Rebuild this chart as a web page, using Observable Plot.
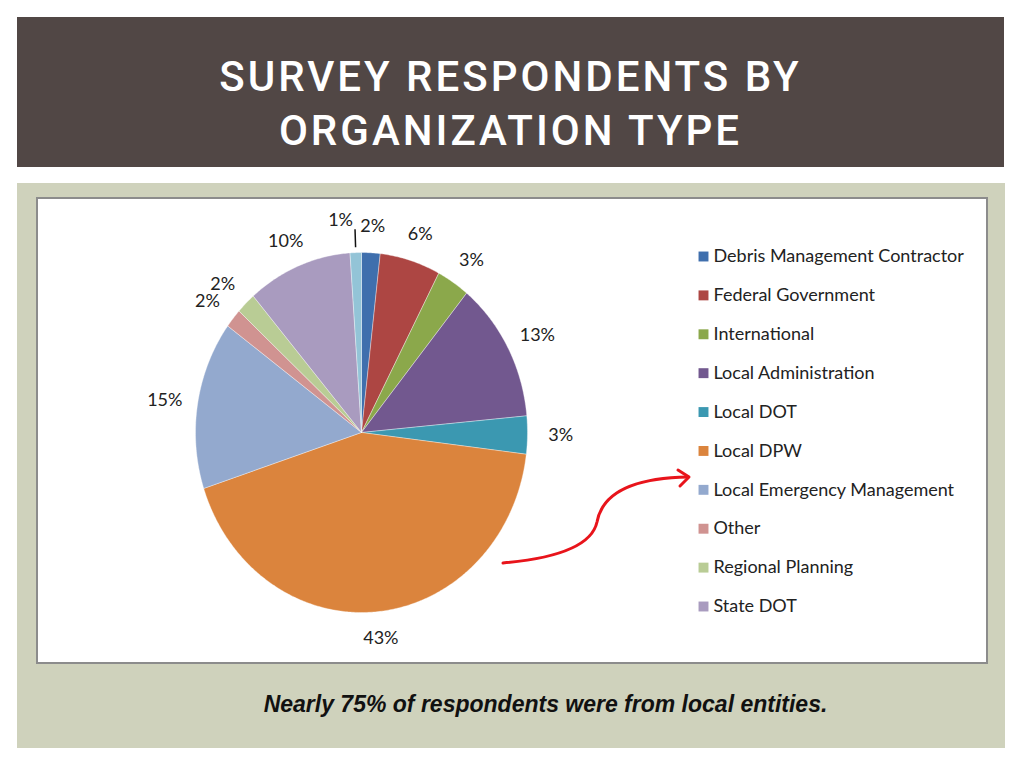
<!DOCTYPE html>
<html>
<head>
<meta charset="utf-8">
<script src="https://cdn.jsdelivr.net/npm/d3@7"></script>
<script src="https://cdn.jsdelivr.net/npm/@observablehq/plot@0.6"></script>
<style>
  html, body { margin: 0; padding: 0; background: #ffffff; }
  #page { position: relative; width: 1024px; height: 768px; overflow: hidden; }
  .abs { position: absolute; }
  #titlebar { left: 17px; top: 17px; width: 987px; height: 150px; background: #514745; }
  #title { left: 17px; top: 17px; width: 987px; text-align: center; color: #ffffff;
    font-family: Roboto, "Liberation Sans", sans-serif; font-weight: 500; font-size: 42px;
    letter-spacing: 3px; line-height: 54px; padding-top: 33px; white-space: nowrap; }
  #panel { left: 17px; top: 183px; width: 988px; height: 565px; background: #cfd2bc; }
  #box { left: 36px; top: 197px; width: 952px; height: 467px; background: #ffffff;
    border: 2px solid #8c8c8c; box-sizing: border-box; }
  #pie { left: 36px; top: 197px; }
  #legend { left: 690px; top: 236px; }
  #caption { left: 17px; top: 691px; width: 1057px; text-align: center; line-height: 26px;
    font-family: "Liberation Sans", Arial, sans-serif; font-style: italic; font-weight: bold;
    font-size: 23px; color: #111; white-space: nowrap; }
  #arrow { left: 0; top: 0; pointer-events: none; }
</style>
</head>
<body>
<div id="page">
  <div id="titlebar" class="abs"></div>
  <div id="title" class="abs">SURVEY RESPONDENTS BY<br>ORGANIZATION TYPE</div>
  <div id="panel" class="abs"></div>
  <div id="box" class="abs"></div>
  <div id="pie" class="abs"></div>
  <div id="legend" class="abs"></div>
  <div id="caption" class="abs">Nearly 75% of respondents were from local entities.</div>
  <svg id="arrow" class="abs" width="1024" height="768">
    <path d="M503,563 C560,558 592,545 597,522 C602,495 630,478 688,477" fill="none" stroke="#e8141b" stroke-width="3" stroke-linecap="round"/>
    <path d="M678,470 L689,477 L680,486" fill="none" stroke="#e8141b" stroke-width="3" stroke-linecap="round" stroke-linejoin="round"/>
  </svg>
</div>
<script>
// ---- data ----
const categories = ["Debris Management Contractor", "Federal Government", "International",
  "Local Administration", "Local DOT", "Local DPW", "Local Emergency Management",
  "Other", "Regional Planning", "State DOT", "Unlabeled"];
const values = [1.8, 5.9, 3.2, 12.6, 3.4, 43.0, 15.1, 1.7, 1.9, 10.2, 1.1];
const percentLabels = ["2%", "6%", "3%", "13%", "3%", "43%", "15%", "2%", "2%", "10%", "1%"];
const legendNames = ["Debris Management Contractor", "Federal Government", "International",
  "Local Administration", "Local DOT", "Local DPW", "Local Emergency Management",
  "Other", "Regional Planning", "State DOT"];
const colors = ["#3f6fad", "#ad4643", "#8ba84b", "#72588f", "#3b98b1", "#db843d",
  "#93a9ce", "#d09391", "#b9cc95", "#a99bbf", "#93c4d7"];

// ---- build wedges from the data ----
const rows = categories.map((name, i) => ({name, value: values[i], label: percentLabels[i]}));
const arcs = d3.pie().sort(null).value(d => d.value)(rows);
const wedgePts = [];
const labelPts = [];
const leaders = [];
for (const a of arcs) {
  const name = a.data.name;
  wedgePts.push({name, x: 0, y: 0});
  const n = Math.max(2, Math.ceil((a.endAngle - a.startAngle) / 0.01));
  for (let k = 0; k <= n; k++) {
    const t = a.startAngle + (a.endAngle - a.startAngle) * k / n;
    wedgePts.push({name, x: Math.sin(t), y: Math.cos(t)});
  }
  wedgePts.push({name, x: 0, y: 0});
  const m = (a.startAngle + a.endAngle) / 2;
  const small = a.data.value < 1.5;
  labelPts.push({name, text: a.data.label, x: 1.2 * Math.sin(m), y: 1.15 * Math.cos(m), small});
  if (small) leaders.push({x1: 1.03 * Math.sin(m), y1: 1.03 * Math.cos(m), x2: 1.13 * Math.sin(m), y2: 1.13 * Math.cos(m)});
}

const pie = Plot.plot({
  width: 952, height: 467,
  marginLeft: 159, marginRight: 461, marginTop: 55, marginBottom: 52,
  x: {domain: [-1, 1], axis: null},
  y: {domain: [-1, 1], axis: null},
  color: {domain: categories, range: colors},
  style: {background: "transparent", fontFamily: "Lato, sans-serif", fontSize: "18px", color: "#222"},
  marks: [
    Plot.line(wedgePts, {x: "x", y: "y", z: "name", fill: "name", stroke: "#ffffff", strokeWidth: 0.6, strokeOpacity: 0.6}),
    Plot.link(leaders, {x1: "x1", y1: "y1", x2: "x2", y2: "y2", stroke: "#111", strokeWidth: 1.5}),
    Plot.text(labelPts.filter(d => !d.small), {x: "x", y: "y", text: "text", fontSize: 18, fill: "#222"}),
    Plot.text(labelPts.filter(d => d.small), {x: "x", y: "y", text: "text", fontSize: 18, fill: "#222", dx: -14, dy: -5})
  ]
});
document.getElementById("pie").appendChild(pie);

const legend = Plot.plot({
  width: 300, height: 390,
  marginLeft: 0, marginRight: 0, marginTop: 0, marginBottom: 0,
  y: {type: "point", domain: legendNames, range: [20, 370], padding: 0, round: false, axis: null},
  color: {domain: categories, range: colors},
  style: {background: "transparent", fontFamily: "Lato, sans-serif", fontSize: "18px", color: "#222"},
  marks: [
    Plot.dot(legendNames, {y: d => d, fill: d => d, symbol: "square", r: 5.6, frameAnchor: "left", dx: 13}),
    Plot.text(legendNames, {y: d => d, text: d => d, frameAnchor: "left", dx: 23, textAnchor: "start", fontSize: 18, fill: "#222"})
  ]
});
document.getElementById("legend").appendChild(legend);
</script>
</body>
</html>
